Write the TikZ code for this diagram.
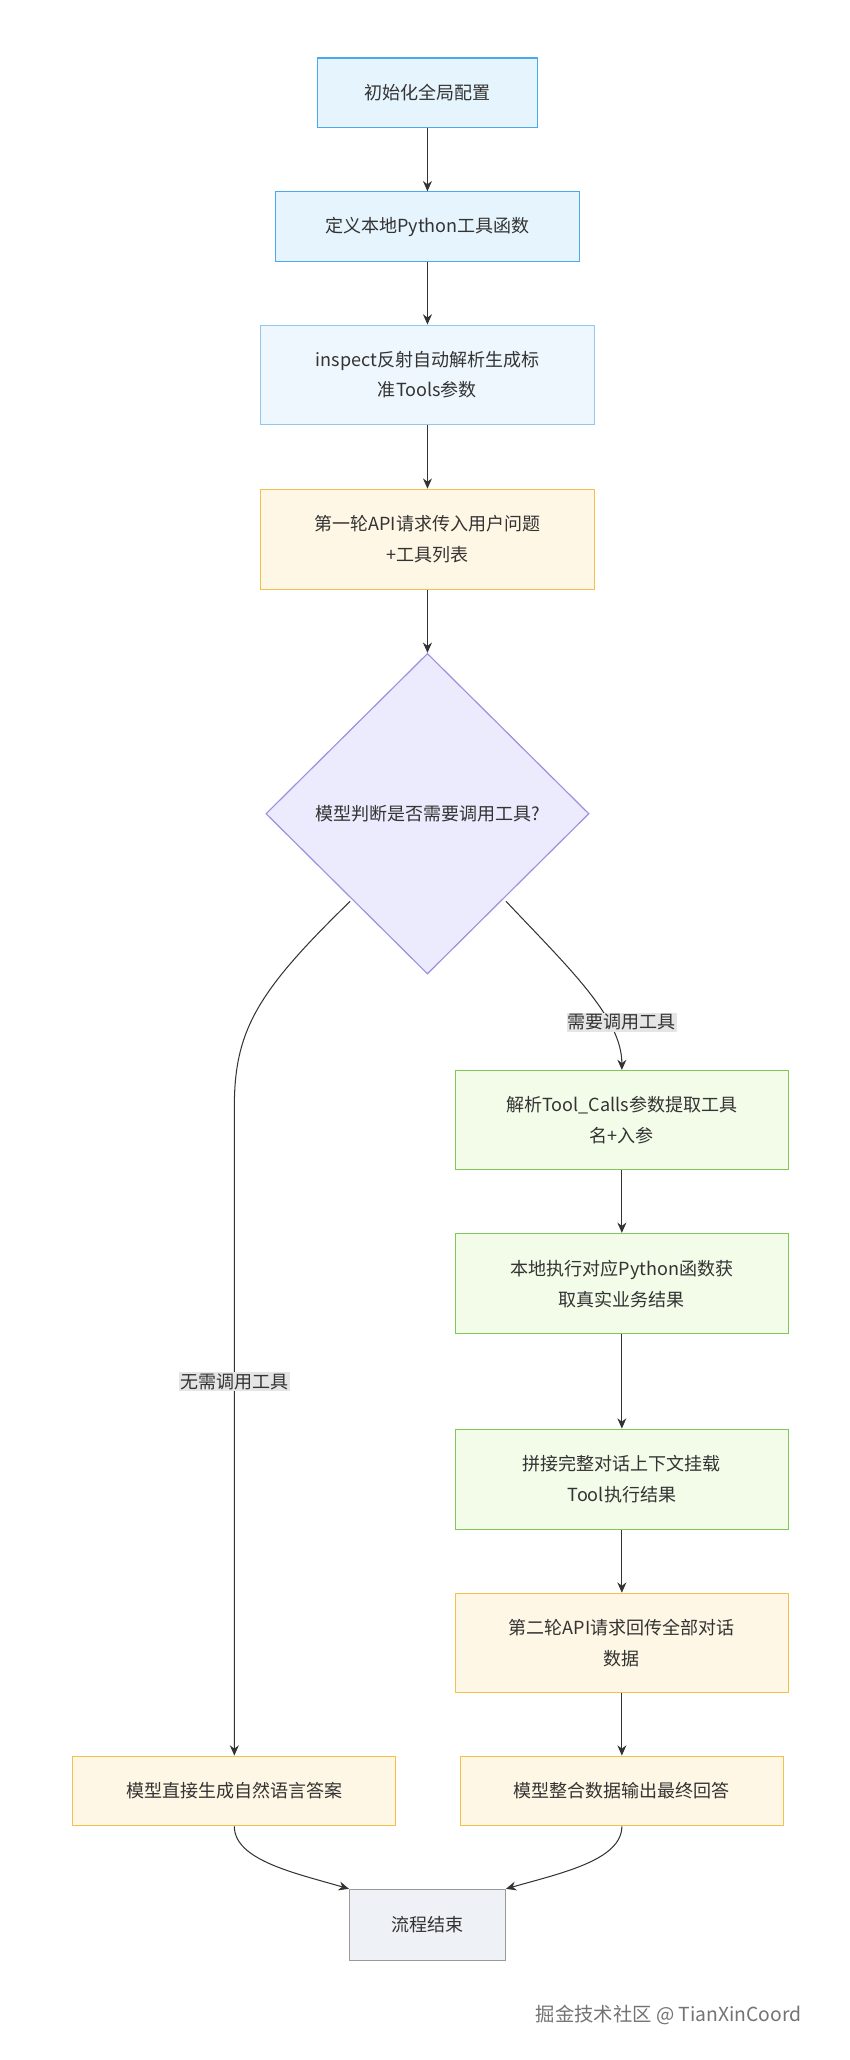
\documentclass[tikz,border=0pt]{standalone}
\usepackage{fontspec}
\setmainfont{Noto Sans CJK SC}
\usetikzlibrary{shapes.geometric,arrows.meta}
\definecolor{bF}{HTML}{E6F5FD}\definecolor{bD}{HTML}{4AA8EE}
\definecolor{lF}{HTML}{EEF7FD}\definecolor{lD}{HTML}{90C8F2}
\definecolor{yF}{HTML}{FFF7E5}\definecolor{yD}{HTML}{F5C04A}
\definecolor{pF}{HTML}{ECEAFD}\definecolor{pD}{HTML}{9C8FE0}
\definecolor{gF}{HTML}{F2FCE9}\definecolor{gD}{HTML}{80C855}
\definecolor{eF}{HTML}{EEF1F5}\definecolor{eD}{HTML}{999999}
\definecolor{tx}{HTML}{333333}
\begin{document}
\begin{tikzpicture}[x=1pt,y=-1pt,
 box/.style={draw,line width=0.9pt,minimum width=#1,align=center,text=tx,font=\fontsize{14}{24}\selectfont,inner sep=0pt},
 blue/.style={fill=bF,draw=bD},lblue/.style={fill=lF,draw=lD},yel/.style={fill=yF,draw=yD},
 grn/.style={fill=gF,draw=gD},
 arr/.style={draw=tx,line width=0.8pt,-{Stealth[length=8pt,width=7pt]}},
 lab/.style={fill=black!10,text=tx,font=\fontsize{14}{16}\selectfont,inner sep=1pt}]
\useasboundingbox (0,0) rectangle (660,1600);
\node[box=171,blue,minimum height=54] (n1) at (332,72) {初始化全局配置};
\node[box=236,blue,minimum height=54] (n2) at (332,176) {定义本地Python工具函数};
\node[box=259,lblue,minimum height=77] (n3) at (332,291) {inspect反射自动解析生成标\\准Tools参数};
\node[box=259,yel,minimum height=78] (n4) at (332,419) {第一轮API请求传入用户问题\\+工具列表};
\node[diamond,draw=pD,fill=pF,line width=0.9pt,minimum width=251,minimum height=249,inner sep=0pt,text=tx,font=\fontsize{14}{16}\selectfont] (d) at (332,632) {模型判断是否需要调用工具?};
\node[box=259,grn,minimum height=77] (n6) at (483,870) {解析Tool\_Calls参数提取工具\\名+入参};
\node[box=259,grn,minimum height=78] (n7) at (483,997) {本地执行对应Python函数获\\取真实业务结果};
\node[box=259,grn,minimum height=78] (n8) at (483,1149) {拼接完整对话上下文挂载\\Tool执行结果};
\node[box=259,yel,minimum height=77] (n9) at (483,1276) {第二轮API请求回传全部对话\\数据};
\node[box=251,yel,minimum height=54] (n10) at (182,1391) {模型直接生成自然语言答案};
\node[box=251,yel,minimum height=54] (n11) at (483,1391) {模型整合数据输出最终回答};
\node[box=121,fill=eF,draw=eD,minimum height=55] (e) at (332,1495) {流程结束};
\draw[arr] (n1) -- (n2);
\draw[arr] (n2) -- (n3);
\draw[arr] (n3) -- (n4);
\draw[arr] (n4) -- (d);
\coordinate (dl) at (272,700);
\coordinate (dr) at (393,700);
\draw[arr] (dl) .. controls (200,770) and (182,800) .. (182,860) -- (n10.north);
\draw[arr] (dr) .. controls (440,750) and (483,790) .. (n6.north);
\node[lab] (l1) at (483,794) {需要调用工具};
\node[lab] (l2) at (182,1073) {无需调用工具};
\draw[arr] (n6) -- (n7);
\draw[arr] (n7) -- (n8);
\draw[arr] (n8) -- (n9);
\draw[arr] (n9) -- (n11);
\draw[arr] (n10.south) .. controls (182,1445) and (230,1455) .. (e.north west);
\draw[arr] (n11.south) .. controls (483,1445) and (435,1455) .. (e.north east);
\node[anchor=east,text=black!55,font=\fontsize{15}{16}\selectfont] (wm) at (626,1565) {掘金技术社区 @ TianXinCoord};
\end{tikzpicture}
\end{document}
